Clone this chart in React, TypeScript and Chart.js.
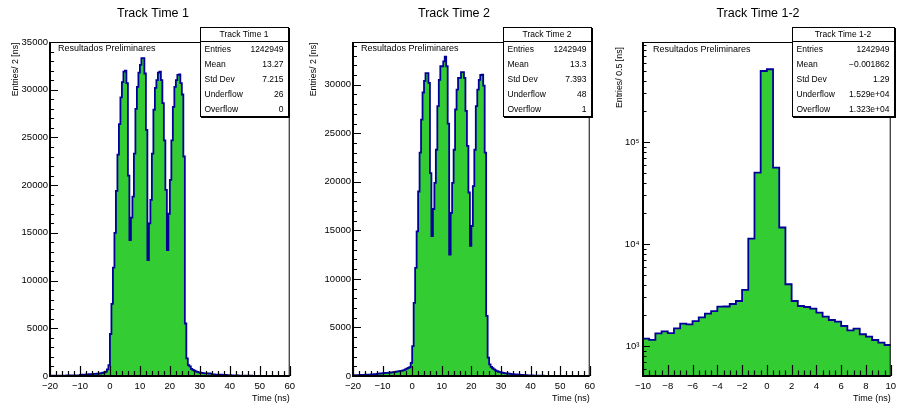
import React, { useEffect, useRef } from 'react';
import { Chart, registerables } from 'chart.js';

Chart.register(...registerables);

const FONT = '"Liberation Sans", Arial, Helvetica, sans-serif';

// ---------- Panel 1: Track Time 1 ----------
const TITLE_1 = 'Track Time 1';
const BIN_START_1 = -20;
const BIN_WIDTH_1 = 0.5;
const COUNTS_1 = [
  30, 28, 35, 32, 38, 40, 36, 42, 45, 44,
  48, 52, 50, 55, 58, 62, 60, 66, 70, 75,
  120, 135, 140, 150, 160, 175, 190, 200, 205, 215,
  230, 235, 245, 260, 300, 340, 380, 450, 700, 1150,
  4400, 7550, 11350, 15000, 19400, 23200, 26400, 29200, 30800, 31900,
  32000, 30700, 21000, 14250, 16600, 18800, 23300, 28000, 30300, 31800,
  32600, 33300, 33300, 31700, 25800, 12150, 16000, 18450, 23300, 27900,
  30200, 31000, 31800, 31900, 31000, 28600, 24700, 19500, 13200, 17000,
  20550, 24700, 28200, 30300, 31000, 31550, 31600, 30700, 29500, 23000,
  5500, 1850, 1150, 1000, 750, 650, 560, 480, 430, 390,
  340, 320, 300, 285, 280, 275, 260, 240, 180, 160,
  150, 145, 140, 135, 130, 125, 120, 110, 100, 90,
  80, 70, 65, 60, 55, 50, 48, 45, 40, 38,
  35, 32, 30, 28, 25, 22, 20, 18, 17, 15,
  14, 12, 11, 10, 9, 8, 8, 7, 6, 6,
  5, 5, 4, 4, 3, 3, 3, 2, 2, 2,
];
const STATS_LABELS = ['Entries', 'Mean', 'Std Dev', 'Underflow', 'Overflow'];
const STATS_1 = ['1242949', '13.27', '7.215', '26', '0'];
const X_TICKS_12 = [-20, -10, 0, 10, 20, 30, 40, 50, 60];
const Y_TICKS_1 = [0, 5000, 10000, 15000, 20000, 25000, 30000, 35000];
const Y_TITLE_1 = 'Entries/ 2 [ns]';

// ---------- Panel 2: Track Time 2 ----------
const TITLE_2 = 'Track Time 2';
const BIN_START_2 = -20;
const BIN_WIDTH_2 = 0.5;
const COUNTS_2 = [
  80, 85, 90, 95, 100, 110, 115, 120, 130, 135,
  140, 150, 160, 170, 180, 200, 220, 240, 260, 280,
  300, 310, 320, 330, 340, 360, 380, 400, 430, 460,
  480, 500, 520, 560, 600, 680, 760, 840, 900, 1360,
  3070, 7530, 11130, 14900, 19000, 23000, 26400, 29200, 30400, 31200,
  31200, 30200, 20900, 14400, 17200, 19900, 23300, 27800, 30500, 31900,
  31900, 32400, 32900, 31900, 26000, 12500, 16800, 19900, 23300, 27450,
  29500, 30700, 30700, 31300, 31300, 30700, 27300, 23700, 18900, 13400,
  15450, 19560, 23300, 27800, 29500, 30500, 31000, 31050, 29900, 23000,
  6200, 1900, 1200, 950, 800, 680, 580, 500, 440, 400,
  360, 330, 300, 280, 260, 240, 220, 200, 185, 170,
  155, 140, 130, 120, 110, 100, 90, 80, 72, 65,
  58, 52, 47, 42, 38, 34, 30, 27, 24, 22,
  20, 18, 16, 14, 13, 12, 11, 10, 9, 8,
  7, 7, 6, 6, 5, 5, 4, 4, 3, 3,
  3, 3, 2, 2, 2, 2, 1, 1, 1, 1,
];
const STATS_2 = ['1242949', '13.3', '7.393', '48', '1'];
const Y_TICKS_2 = [0, 5000, 10000, 15000, 20000, 25000, 30000];
const Y_TITLE_2 = 'Entries/ 2 [ns]';

// ---------- Panel 3: Track Time 1-2 ----------
const TITLE_3 = 'Track Time 1-2';
const BIN_START_3 = -10;
const BIN_WIDTH_3 = 0.5;
const COUNTS_3 = [
  1181, 1150, 1330, 1390, 1340, 1490, 1660, 1630, 1757, 1910,
  2080, 2200, 2430, 2440, 2580, 2760, 3550, 11300, 50100, 496000,
  516000, 56100, 14500, 4030, 2760, 2465, 2410, 2322, 2122, 1940,
  1798, 1733, 1570, 1425, 1480, 1303, 1236, 1145, 1079, 1023,
];
const STATS_3 = ['1242949', '\u22120.001862', '1.29', '1.529e+04', '1.323e+04'];
const X_TICKS_3 = [-10, -8, -6, -4, -2, 0, 2, 4, 6, 8, 10];
const Y_TICKS_3 = [1000, 10000, 100000];
const Y_TITLE_3 = 'Entries/ 0.5 [ns]';

const X_TITLE = 'Time (ns)';
const PRELIM = 'Resultados Preliminares';

const FILL = '#33cc33';
const LINE = '#000099';

function histPoints(start: number, width: number, counts: number[]) {
  const pts = counts.map((c, i) => ({ x: start + i * width, y: c }));
  pts.push({ x: start + counts.length * width, y: counts[counts.length - 1] });
  return pts;
}

function range(a: number, b: number, step: number) {
  const out: number[] = [];
  for (let v = a; v <= b + 1e-9; v += step) out.push(Math.round(v * 1000) / 1000);
  return out;
}

const minus = (v: number) => (v < 0 ? '\u2212' + Math.abs(v) : String(v));
const SUP: Record<string, string> = { '0': '\u2070', '1': '\u00b9', '2': '\u00b2', '3': '\u00b3', '4': '\u2074', '5': '\u2075', '6': '\u2076' };
const pow10 = (v: number) => '10' + String(Math.round(Math.log10(v))).split('').map((c) => SUP[c]).join('');

interface PanelCfg {
  width: number;
  left: number;
  area: { left: number; right: number; top: number; bottom: number };
  title: string;
  titleX: number;
  start: number;
  binW: number;
  counts: number[];
  xMin: number;
  xMax: number;
  yMin: number;
  yMax: number;
  log: boolean;
  xTicks: number[];
  yTicks: number[];
  xMinor: number[];
  yMinor: number[];
  xLen: [number, number];
  yLen: [number, number];
  yLabelPad: number;
  stats: string[];
  box: { x1: number; x2: number; y1: number; y2: number };
  prelimX: number;
  prelimY: number;
  yTitle: string;
  yTitleX: number;
  yTitleTop: number;
}

function logMinors(min: number, max: number) {
  const out: number[] = [];
  for (let d = 2; d <= 6; d++) {
    for (let k = 2; k <= 9; k++) {
      const v = k * Math.pow(10, d);
      if (v >= min && v <= max) out.push(v);
    }
  }
  return out;
}

const PANELS: PanelCfg[] = [
  {
    width: 300,
    left: 0,
    area: { left: 50, right: 290, top: 42, bottom: 376 },
    title: TITLE_1,
    titleX: 153,
    start: BIN_START_1,
    binW: BIN_WIDTH_1,
    counts: COUNTS_1,
    xMin: -20,
    xMax: 60,
    yMin: 0,
    yMax: 35000,
    log: false,
    xTicks: X_TICKS_12,
    yTicks: Y_TICKS_1,
    xMinor: range(-20, 60, 2),
    yMinor: range(0, 35000, 1000),
    xLen: [10, 5],
    yLen: [8, 4],
    yLabelPad: 2,
    stats: STATS_1,
    box: { x1: 200, x2: 288, y1: 27, y2: 116 },
    prelimX: 58,
    prelimY: 48.5,
    yTitle: Y_TITLE_1,
    yTitleX: 16,
    yTitleTop: 42.5,
  },
  {
    width: 300,
    left: 300,
    area: { left: 53, right: 293, top: 42, bottom: 376 },
    title: TITLE_2,
    titleX: 154,
    start: BIN_START_2,
    binW: BIN_WIDTH_2,
    counts: COUNTS_2,
    xMin: -20,
    xMax: 60,
    yMin: 0,
    yMax: 34400,
    log: false,
    xTicks: X_TICKS_12,
    yTicks: Y_TICKS_2,
    xMinor: range(-20, 60, 2),
    yMinor: range(0, 34000, 1000),
    xLen: [10, 5],
    yLen: [8, 4],
    yLabelPad: 2,
    stats: STATS_2,
    box: { x1: 203, x2: 291, y1: 27, y2: 116 },
    prelimX: 61,
    prelimY: 48.5,
    yTitle: Y_TITLE_2,
    yTitleX: 13.5,
    yTitleTop: 42.5,
  },
  {
    width: 301,
    left: 600,
    area: { left: 43, right: 296, top: 42, bottom: 376 },
    title: TITLE_3,
    titleX: 158,
    start: BIN_START_3,
    binW: BIN_WIDTH_3,
    counts: COUNTS_3,
    xMin: -10,
    xMax: 10,
    yMin: 508,
    yMax: 955000,
    log: true,
    xTicks: X_TICKS_3,
    yTicks: Y_TICKS_3,
    xMinor: range(-10, 10, 0.5),
    yMinor: logMinors(508, 955000),
    xLen: [11, 5.5],
    yLen: [7, 3.5],
    yLabelPad: 3.5,
    stats: STATS_3,
    box: { x1: 192, x2: 294, y1: 27, y2: 116 },
    prelimX: 53,
    prelimY: 49.5,
    yTitle: Y_TITLE_3,
    yTitleX: 19.5,
    yTitleTop: 47,
  },
];

function makePlugin(p: PanelCfg) {
  return {
    id: 'rootStyle',
    afterDatasetsDraw(chart: any) {
      const ctx = chart.ctx as CanvasRenderingContext2D;
      const a = chart.chartArea;
      const xs = chart.scales.x;
      const ys = chart.scales.y;
      ctx.save();
      ctx.strokeStyle = '#000';
      ctx.lineWidth = 1.2;
      ctx.beginPath();
      for (const v of p.xMinor) {
        const px = Math.round(xs.getPixelForValue(v)) + 0.5;
        const len = p.xTicks.includes(v) ? p.xLen[0] : p.xLen[1];
        ctx.moveTo(px, a.bottom);
        ctx.lineTo(px, a.bottom - len);
      }
      for (const v of p.xTicks) {
        const px = Math.round(xs.getPixelForValue(v)) + 0.5;
        ctx.moveTo(px, a.bottom);
        ctx.lineTo(px, a.bottom - p.xLen[0]);
      }
      for (const v of p.yMinor) {
        const py = Math.round(ys.getPixelForValue(v)) + 0.5;
        const len = p.yTicks.includes(v) ? p.yLen[0] : p.yLen[1];
        ctx.moveTo(a.left, py);
        ctx.lineTo(a.left + len, py);
      }
      for (const v of p.yTicks) {
        const py = Math.round(ys.getPixelForValue(v)) + 0.5;
        ctx.moveTo(a.left, py);
        ctx.lineTo(a.left + p.yLen[0], py);
      }
      ctx.stroke();
      // frame
      ctx.lineWidth = 1;
      ctx.strokeRect(a.left + 0.5, a.top + 0.5, a.right - a.left - 1, a.bottom - a.top - 1);
      ctx.lineWidth = 2;
      ctx.beginPath();
      ctx.moveTo(a.left, a.top);
      ctx.lineTo(a.left, a.bottom);
      ctx.lineTo(a.right, a.bottom);
      ctx.stroke();
      ctx.restore();
    },
    afterDraw(chart: any) {
      const ctx = chart.ctx as CanvasRenderingContext2D;
      const a = chart.chartArea;
      ctx.save();
      ctx.fillStyle = '#000';
      ctx.textBaseline = 'middle';
      // title
      ctx.font = `12.5px ${FONT}`;
      ctx.textAlign = 'center';
      ctx.fillText(p.title, p.titleX, 14);
      // preliminary label
      ctx.font = `9px ${FONT}`;
      ctx.textAlign = 'left';
      ctx.fillText(PRELIM, p.prelimX, p.prelimY);
      // x title
      ctx.font = `9px ${FONT}`;
      ctx.textAlign = 'right';
      ctx.fillText(X_TITLE, a.right, 399);
      // y title
      ctx.save();
      ctx.translate(p.yTitleX, p.yTitleTop);
      ctx.rotate(-Math.PI / 2);
      ctx.font = `8.8px ${FONT}`;
      ctx.textAlign = 'right';
      ctx.fillText(p.yTitle, 0, 0);
      ctx.restore();
      // stats box
      const b = p.box;
      ctx.fillStyle = '#000';
      ctx.fillRect(b.x1 + 1, b.y1 + 1, b.x2 - b.x1 + 1, b.y2 - b.y1 + 1);
      ctx.fillStyle = '#fff';
      ctx.fillRect(b.x1, b.y1, b.x2 - b.x1, b.y2 - b.y1);
      ctx.strokeStyle = '#000';
      ctx.lineWidth = 1;
      ctx.strokeRect(b.x1 + 0.5, b.y1 + 0.5, b.x2 - b.x1, b.y2 - b.y1);
      ctx.beginPath();
      ctx.moveTo(b.x1, b.y1 + 14.5);
      ctx.lineTo(b.x2, b.y1 + 14.5);
      ctx.stroke();
      ctx.fillStyle = '#000';
      ctx.font = `8.5px ${FONT}`;
      ctx.textAlign = 'center';
      ctx.fillText(p.title, (b.x1 + b.x2) / 2, b.y1 + 8);
      STATS_LABELS.forEach((lab, i) => {
        const y = b.y1 + 22.5 + 15 * i;
        ctx.textAlign = 'left';
        ctx.fillText(lab, b.x1 + 4.5, y);
        ctx.textAlign = 'right';
        ctx.fillText(p.stats[i], b.x2 - 4.5, y);
      });
      ctx.restore();
    },
  };
}

function buildConfig(p: PanelCfg): any {
  const tickFont = { family: FONT, size: 9.5 };
  return {
    type: 'line',
    data: {
      datasets: [
        {
          data: histPoints(p.start, p.binW, p.counts),
          stepped: true,
          borderColor: LINE,
          borderWidth: 1.8,
          backgroundColor: FILL,
          fill: p.log ? 'start' : 'origin',
          pointRadius: 0,
          pointHoverRadius: 0,
        },
      ],
    },
    options: {
      animation: false,
      responsive: false,
      devicePixelRatio: 1,
      events: [],
      layout: {
        padding: { left: 0, top: p.area.top, right: p.width - p.area.right, bottom: 0 },
      },
      plugins: { legend: { display: false }, tooltip: { enabled: false }, title: { display: false } },
      scales: {
        x: {
          type: 'linear',
          min: p.xMin,
          max: p.xMax,
          grid: { display: false, drawTicks: false },
          border: { display: false },
          afterFit: (s: any) => {
            s.height = 404 - p.area.bottom;
          },
          afterBuildTicks: (s: any) => {
            s.ticks = p.xTicks.map((v) => ({ value: v }));
          },
          ticks: {
            autoSkip: false,
            maxRotation: 0,
            padding: 5,
            color: '#000',
            font: tickFont,
            callback: (v: number) => minus(v),
          },
        },
        y: {
          type: p.log ? 'logarithmic' : 'linear',
          min: p.yMin,
          max: p.yMax,
          grid: { display: false, drawTicks: false },
          border: { display: false },
          afterFit: (s: any) => {
            s.width = p.area.left;
          },
          afterBuildTicks: (s: any) => {
            s.ticks = p.yTicks.map((v) => ({ value: v }));
          },
          ticks: {
            autoSkip: false,
            padding: p.yLabelPad,
            color: '#000',
            font: tickFont,
            callback: (v: number) => (p.log ? pow10(v) : String(v)),
          },
        },
      },
    },
    plugins: [makePlugin(p)],
  };
}

function Panel({ p }: { p: PanelCfg }) {
  const ref = useRef<HTMLCanvasElement>(null);
  useEffect(() => {
    const chart = new Chart(ref.current as HTMLCanvasElement, buildConfig(p));
    return () => chart.destroy();
  }, [p]);
  return (
    <canvas
      ref={ref}
      width={p.width}
      height={404}
      style={{ position: 'absolute', left: p.left, top: 0, width: p.width, height: 404 }}
    />
  );
}

export default function App() {
  return (
    <div style={{ position: 'absolute', left: 0, top: 0, width: 901, height: 404, background: '#fff', overflow: 'hidden' }}>
      {PANELS.map((p, i) => (
        <Panel key={i} p={p} />
      ))}
    </div>
  );
}
